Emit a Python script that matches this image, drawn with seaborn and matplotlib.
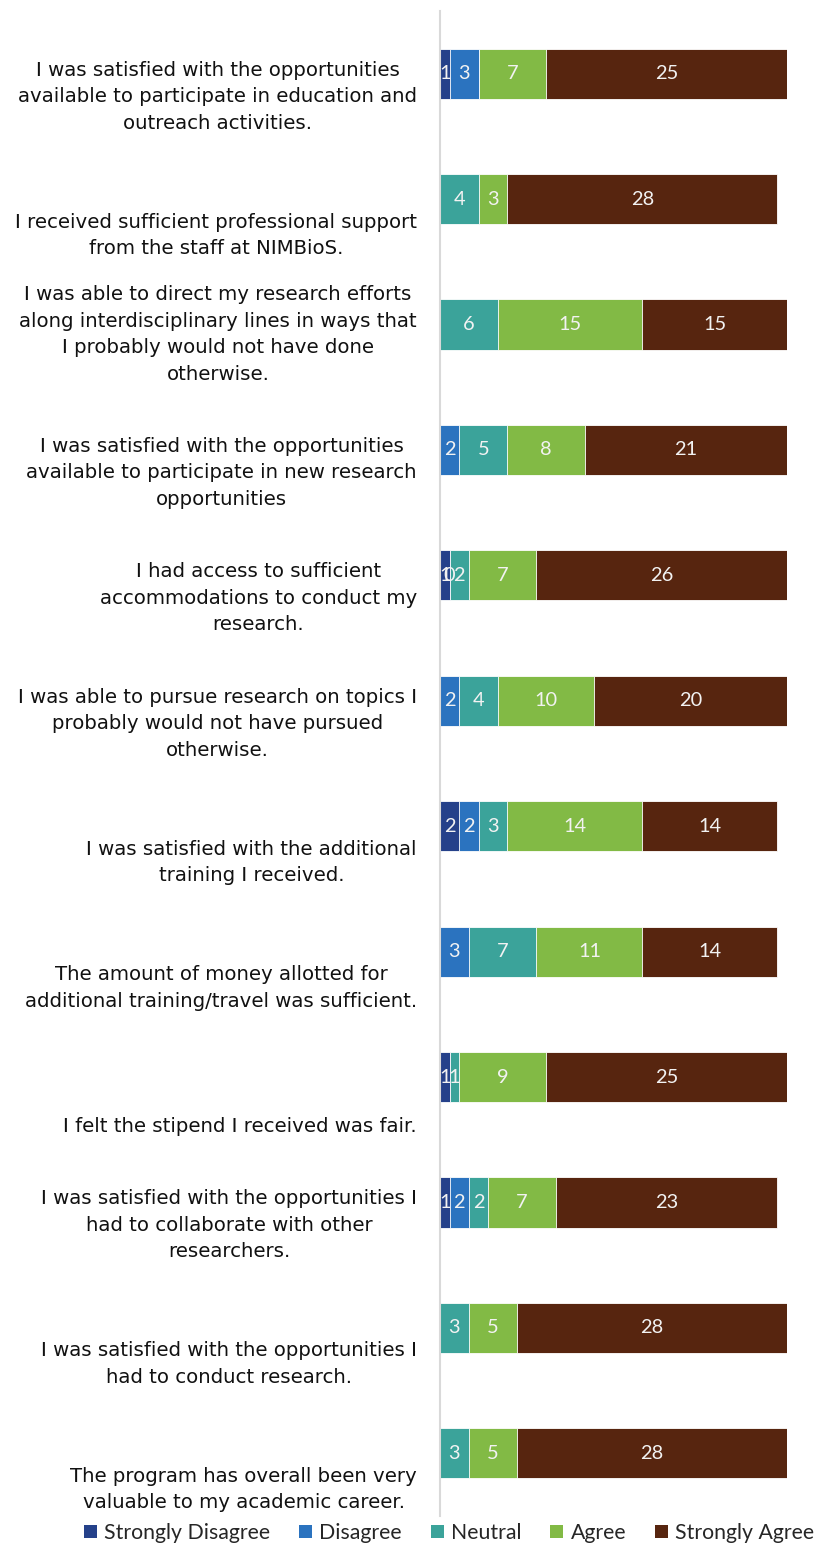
import numpy as np
import pandas as pd
import matplotlib
matplotlib.use("Agg")
import matplotlib.pyplot as plt
from matplotlib.patches import Patch
import seaborn as sns

# Survey statements, top to bottom (line breaks as wrapped on the chart)
statements = [
    "I was satisfied with the opportunities\navailable to participate in education and\noutreach activities.",
    "I received sufficient professional support\nfrom the staff at NIMBioS.",
    "I was able to direct my research efforts\nalong interdisciplinary lines in ways that\nI probably would not have done\notherwise.",
    "I was satisfied with the opportunities\navailable to participate in new research\nopportunities",
    "I had access to sufficient\naccommodations to conduct my\nresearch.",
    "I was able to pursue research on topics I\nprobably would not have pursued\notherwise.",
    "I was satisfied with the additional\ntraining I received.",
    "The amount of money allotted for\nadditional training/travel was sufficient.",
    "I felt the stipend I received was fair.",
    "I was satisfied with the opportunities I\nhad to collaborate with other\nresearchers.",
    "I was satisfied with the opportunities I\nhad to conduct research.",
    "The program has overall been very\nvaluable to my academic career.",
]

# Response counts per statement (None = no responses recorded)
strongly_disagree = [1, None, None, None, 1, None, 2, None, 1, 1, None, None]
disagree          = [3, None, None, 2, 0, 2, 2, 3, None, 2, None, None]
neutral           = [None, 4, 6, 5, 2, 4, 3, 7, 1, 2, 3, 3]
agree             = [7, 3, 15, 8, 7, 10, 14, 11, 9, 7, 5, 5]
strongly_agree    = [25, 28, 15, 21, 26, 20, 14, 14, 25, 23, 28, 28]

levels = ["Strongly Disagree", "Disagree", "Neutral", "Agree", "Strongly Agree"]
colors = ["#25418A", "#2B73BF", "#3BA39A", "#82BA45", "#57250F"]

keys = [s.replace("\n", " ") for s in statements]
counts = pd.DataFrame(
    {lvl: vals for lvl, vals in zip(levels, [strongly_disagree, disagree, neutral,
                                              agree, strongly_agree])},
    index=keys,
).astype(float)
cum = counts.fillna(0).cumsum(axis=1)

sns.set_theme(style="white")
plt.rcParams["font.family"] = ["DejaVu Sans"]

fig = plt.figure(figsize=(8.23, 15.43), dpi=100)
ax = fig.add_axes([440 / 823, 27 / 1543, 347 / 823, 1505 / 1543])

# Stacked bars: draw cumulative totals from the right-most level down
for lvl, col in reversed(list(zip(levels, colors))):
    sns.barplot(x=cum[lvl].values, y=keys, orient="y", color=col, width=0.4,
                edgecolor="white", linewidth=0.6, saturation=1, ax=ax)

# Segment value labels
for i, key in enumerate(keys):
    for lvl in levels:
        v = counts.loc[key, lvl]
        if np.isnan(v):
            continue
        xc = cum.loc[key, lvl] - v / 2
        ax.text(xc, i, f"{int(v)}", ha="center", va="center", color="#F2F2F2",
                fontsize=14.4, family="Lato")

# Category labels, right-aligned against the axis, lines centred
for i, s in enumerate(statements):
    ax.annotate(s, xy=(0, i), xycoords="data", xytext=(-16.6, -42.5),
                textcoords="offset points", ha="right", va="bottom",
                multialignment="center", fontsize=14.2, color="#111111",
                linespacing=1.5, annotation_clip=False)

ax.set_xlim(0, 36)
ax.set_xticks([])
ax.set_yticks([])
ax.set_xlabel("")
ax.set_ylabel("")
for side in ["top", "right", "bottom"]:
    ax.spines[side].set_visible(False)
ax.spines["left"].set_color("#D9D9D9")
ax.spines["left"].set_linewidth(1.5)

handles = [Patch(facecolor=c, edgecolor="none", label=l) for l, c in zip(levels, colors)]
fig.legend(handles=handles, loc="center", bbox_to_anchor=(449 / 823, 1 - 1533 / 1543),
           ncol=5, frameon=False, prop={"family": "Lato", "size": 15.3},
           handlelength=0.62, handleheight=0.62, handletextpad=0.34,
           columnspacing=1.35, borderpad=0, borderaxespad=0)

fig.savefig("out.png", dpi=100)
